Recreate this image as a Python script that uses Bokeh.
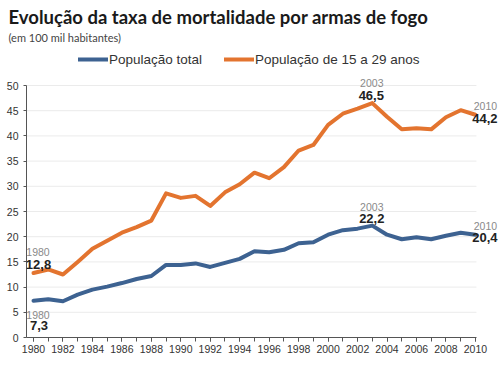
from bokeh.plotting import figure
from bokeh.models import (Label, Legend, LegendItem, SingleIntervalTicker, FixedTicker, Range1d, Title)
from bokeh.embed import file_html
from bokeh.resources import INLINE

# ---- data ----
years = list(range(1980, 2011))
total = [7.3, 7.6, 7.2, 8.5, 9.5, 10.1, 10.8, 11.6, 12.2, 14.4, 14.4, 14.7, 14.0, 14.8, 15.6,
         17.1, 16.9, 17.4, 18.7, 18.9, 20.4, 21.3, 21.6, 22.2, 20.4, 19.5, 19.9, 19.5, 20.2, 20.8, 20.4]
jovens = [12.8, 13.5, 12.5, 15.0, 17.6, 19.2, 20.8, 21.9, 23.2, 28.6, 27.7, 28.1, 26.1, 28.8, 30.4,
          32.7, 31.6, 33.8, 37.1, 38.2, 42.2, 44.4, 45.4, 46.5, 43.8, 41.3, 41.5, 41.3, 43.7, 45.1, 44.2]
series_names = ["População total", "População de 15 a 29 anos"]
y_ticks = [0, 5, 10, 15, 20, 25, 30, 35, 40, 45, 50]
title_text = "Evolução da taxa de mortalidade por armas de fogo"
subtitle_text = "(em 100 mil habitantes)"

BLUE = "#3d6291"
ORANGE = "#e3742f"
FONT = "Liberation Sans"
TFONT = "Lato"

FW, FH = 474, 293
x_start = years[0] - 0.475
x_axis_end = years[-1] + 0.07
x_end = x_start + FW / 14.73
y_top = FH / 5.04

p = figure(frame_width=FW, frame_height=FH, output_backend="svg", toolbar_location=None,
           x_range=Range1d(x_start, x_end), y_range=Range1d(0, y_top),
           min_border_left=26, min_border_right=0, min_border_top=44, min_border_bottom=0)
p.outline_line_color = None
p.background_fill_color = "white"
p.border_fill_color = "white"

# titles: p.title is the outer one (main title); subtitle stacked below it
p.title.text = title_text
p.title.align = "left"
p.title.offset = -18
p.title.standoff = 1
p.title.text_font = TFONT
p.title.text_font_size = "18.5px"
p.title.text_font_style = "bold"
p.title.text_color = "#1a1a1a"
p.add_layout(Title(text=subtitle_text, align="left", offset=-18, standoff=1,
                   text_font=TFONT, text_font_size="11px", text_font_style="normal",
                   text_color="#444444"), "above")

# horizontal grid lines, limited to the axis extent
p.segment(x0=[x_start] * len(y_ticks), x1=[x_axis_end] * len(y_ticks), y0=y_ticks, y1=y_ticks,
          line_color="#ebebeb", line_width=1)

r_total = p.line(years, total, line_color=BLUE, line_width=4, line_cap="round", line_join="round")
r_jov = p.line(years, jovens, line_color=ORANGE, line_width=4, line_cap="round", line_join="round")

# axes
p.xaxis.ticker = SingleIntervalTicker(interval=2, num_minor_ticks=2)
p.yaxis.ticker = FixedTicker(ticks=y_ticks, minor_ticks=[])
p.xaxis.bounds = (x_start, x_axis_end)
p.yaxis.bounds = (0, 50)
for ax in (p.xaxis[0], p.yaxis[0]):
    ax.axis_line_color = "#555555"
    ax.major_tick_line_color = "#555555"
    ax.minor_tick_line_color = "#555555"
    ax.major_tick_in = 0
    ax.minor_tick_in = 0
    ax.major_label_text_font = FONT
    ax.major_label_text_font_size = "10.5px"
    ax.major_label_text_color = "#333333"
p.xaxis.major_tick_out = 4
p.xaxis.minor_tick_out = 4
p.xaxis.major_label_standoff = 3
p.yaxis.major_tick_out = 3
p.yaxis.minor_tick_out = 0
p.yaxis.major_label_standoff = 5
p.xgrid.grid_line_color = None
p.ygrid.grid_line_color = None

# legend
legend = Legend(items=[LegendItem(label=series_names[0], renderers=[r_total]),
                       LegendItem(label=series_names[1], renderers=[r_jov])],
                location=(52, 268), orientation="horizontal",
                padding=0, margin=0, spacing=22, label_standoff=1,
                glyph_width=30, glyph_height=20, label_height=20,
                border_line_color=None, background_fill_alpha=0,
                label_text_font=FONT, label_text_font_size="13.5px", label_text_color="#333333")
p.add_layout(legend, "center")

# point annotations
def fmt(v):
    return f"{v:.1f}".replace(".", ",")

ann = {
    # (series, year): (year_dx, year_dy, val_dx, val_dy)
    ("j", 1980): (4.5, 20.5, 5, 8.5),
    ("t", 1980): (4.5, -14, 5.5, -25),
    ("j", 2003): (-0.5, 20.6, -1, 7.6),
    ("t", 2003): (-0.5, 19, -0.5, 7),
    ("j", 2010): (10, 9, 9.5, -4),
    ("t", 2010): (10, 9, 9.5, -3),
}
for (s, yr), (ydx, ydy, vdx, vdy) in ann.items():
    vals = jovens if s == "j" else total
    v = vals[years.index(yr)]
    p.add_layout(Label(x=yr, y=v, x_offset=ydx, y_offset=ydy, text=str(yr),
                       text_font=FONT, text_font_size="10.5px", text_color="#8a8a8a",
                       text_align="center", text_baseline="alphabetic"))
    p.add_layout(Label(x=yr, y=v, x_offset=vdx, y_offset=vdy, text=fmt(v),
                       text_font=FONT, text_font_size="13px", text_font_style="bold",
                       text_color="#222222", text_align="center", text_baseline="alphabetic"))

open("out.html", "w").write(file_html(p, INLINE))
